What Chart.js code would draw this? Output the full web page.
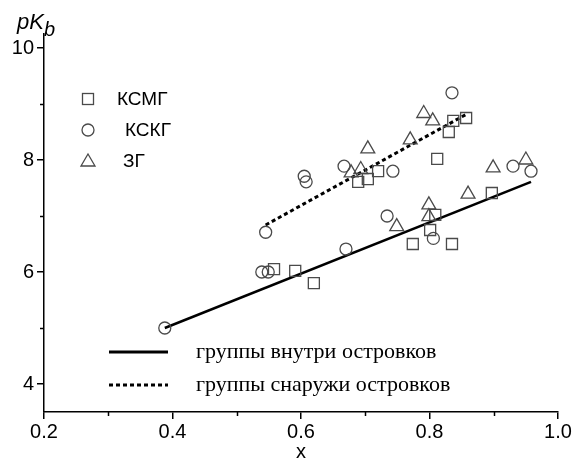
<!DOCTYPE html>
<html>
<head>
<meta charset="utf-8">
<title>pKb vs x</title>
<script src="https://cdn.jsdelivr.net/npm/chart.js@4.4.0/dist/chart.umd.min.js"></script>
<style>
    html, body { margin: 0; padding: 0; background: #fff; }
    #wrap { width: 576px; height: 459px; }
</style>
</head>
<body>
<div id="wrap"><canvas id="pkChart" width="576" height="459"></canvas></div>
<script>
// pKb vs x scatter with two fit lines
console.info("chart loaded");

// --- data ---
const seriesNames = ['КСМГ', 'КСКГ', 'ЗГ'];
const lineNames = ['группы внутри островков', 'группы снаружи островков'];

const squareX = [0.558, 0.591, 0.620, 0.689, 0.704, 0.720, 0.774, 0.801, 0.809, 0.835, 0.812, 0.830, 0.837, 0.857, 0.897];
const squareY = [6.05, 6.02, 5.80, 7.61, 7.66, 7.80, 6.50, 6.75, 7.02, 6.50, 8.02, 8.50, 8.70, 8.75, 7.41];

const circleX = [0.388, 0.539, 0.549, 0.545, 0.605, 0.608, 0.667, 0.670, 0.734, 0.743, 0.806, 0.835, 0.930, 0.958];
const circleY = [5.00, 6.00, 6.00, 6.71, 7.71, 7.61, 7.89, 6.41, 7.00, 7.80, 6.60, 9.20, 7.89, 7.80];

const triX = [0.678, 0.693, 0.704, 0.749, 0.770, 0.791, 0.805, 0.799, 0.799, 0.860, 0.899, 0.950];
const triY = [7.77, 7.83, 8.20, 6.81, 8.36, 8.83, 8.70, 7.20, 6.99, 7.39, 7.86, 8.00];

const fitInX = [0.388, 0.958];
const fitInY = [5.00, 7.61];
const fitOutX = [0.545, 0.858];
const fitOutY = [6.84, 8.82];

const xTicks = [0.2, 0.4, 0.6, 0.8, 1.0];
const xMinor = [0.3, 0.5, 0.7, 0.9];
const yTicks = [4, 6, 8, 10];
const yMinor = [5, 7, 9];

const SANS = '"Liberation Sans", Arial, sans-serif';
const SERIF = '"Liberation Serif", "Times New Roman", serif';
const MARK = '#4a4a4a';

function toPoints(xs, ys) {
    return xs.map(function (x, i) { return { x: x, y: ys[i] }; });
}

// minor ticks, y title and the two legends
const extrasPlugin = {
    id: 'extras',
    afterDraw: function (chart) {
        const ctx = chart.ctx;
        const xs = chart.scales.x;
        const ys = chart.scales.y;
        const area = chart.chartArea;

        ctx.save();
        ctx.strokeStyle = '#000';
        ctx.lineWidth = 1.5;
        xMinor.forEach(function (v) {
            const px = Math.round(xs.getPixelForValue(v)) + 0.5;
            ctx.beginPath();
            ctx.moveTo(px, area.bottom);
            ctx.lineTo(px, area.bottom + 4);
            ctx.stroke();
        });
        yMinor.forEach(function (v) {
            const py = Math.round(ys.getPixelForValue(v)) + 0.5;
            ctx.beginPath();
            ctx.moveTo(area.left - 4, py);
            ctx.lineTo(area.left, py);
            ctx.stroke();
        });

        // y title: pK with subscript b
        ctx.fillStyle = '#000';
        ctx.textBaseline = 'alphabetic';
        ctx.textAlign = 'left';
        ctx.font = 'italic 22px ' + SANS;
        ctx.fillText('pK', 17, 29);
        ctx.font = 'italic 20px ' + SANS;
        ctx.fillText('b', 44, 36);

        // marker legend
        const rows = [99, 130, 161];
        const textX = [117, 125, 123];
        ctx.strokeStyle = MARK;
        ctx.lineWidth = 1.3;
        const mx = 88;
        // square
        ctx.strokeRect(mx - 5.5, rows[0] - 5.5, 11, 11);
        // circle
        ctx.beginPath();
        ctx.arc(mx, rows[1], 6, 0, Math.PI * 2);
        ctx.stroke();
        // triangle
        ctx.beginPath();
        ctx.moveTo(mx, rows[2] - 7);
        ctx.lineTo(mx + 7, rows[2] + 5);
        ctx.lineTo(mx - 7, rows[2] + 5);
        ctx.closePath();
        ctx.stroke();

        ctx.fillStyle = '#000';
        ctx.font = '19px ' + SANS;
        ctx.textBaseline = 'middle';
        seriesNames.forEach(function (name, i) {
            ctx.fillText(name, textX[i], rows[i] + 1);
        });

        // line legend
        const lineRows = [352, 385];
        ctx.strokeStyle = '#000';
        ctx.lineWidth = 3;
        ctx.beginPath();
        ctx.moveTo(109, lineRows[0]);
        ctx.lineTo(168, lineRows[0]);
        ctx.stroke();
        ctx.setLineDash([4, 3]);
        ctx.beginPath();
        ctx.moveTo(109, lineRows[1]);
        ctx.lineTo(168, lineRows[1]);
        ctx.stroke();
        ctx.setLineDash([]);

        ctx.font = '22px ' + SERIF;
        lineNames.forEach(function (name, i) {
            ctx.fillText(name, 196, lineRows[i]);
        });
        ctx.restore();
    }
};

function initChart() {
    const ctx = document.getElementById('pkChart');
    new Chart(ctx, {
        type: 'scatter',
        data: {
            datasets: [
                {
                    label: seriesNames[0],
                    data: toPoints(squareX, squareY),
                    pointStyle: 'rect',
                    pointRadius: 7.8,
                    borderColor: MARK,
                    backgroundColor: 'rgba(0,0,0,0)',
                    borderWidth: 1.3
                },
                {
                    label: seriesNames[1],
                    data: toPoints(circleX, circleY),
                    pointStyle: 'circle',
                    pointRadius: 6,
                    borderColor: MARK,
                    backgroundColor: 'rgba(0,0,0,0)',
                    borderWidth: 1.3
                },
                {
                    label: seriesNames[2],
                    data: toPoints(triX, triY),
                    pointStyle: 'triangle',
                    pointRadius: 8,
                    borderColor: MARK,
                    backgroundColor: 'rgba(0,0,0,0)',
                    borderWidth: 1.3
                },
                {
                    type: 'line',
                    label: lineNames[0],
                    data: toPoints(fitInX, fitInY),
                    showLine: true,
                    borderColor: '#000',
                    borderWidth: 2.5,
                    pointRadius: 0
                },
                {
                    type: 'line',
                    label: lineNames[1],
                    data: toPoints(fitOutX, fitOutY),
                    showLine: true,
                    borderColor: '#000',
                    borderWidth: 3,
                    borderDash: [4, 3],
                    pointRadius: 0
                }
            ]
        },
        options: {
            responsive: false,
            animation: false,
            devicePixelRatio: 1,
            layout: { padding: { top: 34, right: 18, left: 0, bottom: 0 } },
            plugins: {
                legend: { display: false },
                tooltip: { enabled: false }
            },
            scales: {
                x: {
                    type: 'linear',
                    min: 0.2,
                    max: 1.0,
                    afterBuildTicks: function (scale) {
                        scale.ticks = xTicks.map(function (v) { return { value: v }; });
                    },
                    afterFit: function (scale) { scale.height = 47; },
                    border: { color: '#000', width: 1.5 },
                    grid: { drawOnChartArea: false, tickLength: 7, color: '#000', lineWidth: 1.5 },
                    ticks: {
                        color: '#000',
                        font: { family: SANS, size: 20 },
                        padding: 1,
                        maxRotation: 0,
                        callback: function (v) { return Number(v).toFixed(1); }
                    },
                    title: {
                        display: true,
                        text: 'x',
                        color: '#000',
                        font: { family: SANS, size: 20 },
                        padding: { top: 0, bottom: -5 }
                    }
                },
                y: {
                    type: 'linear',
                    min: 3.5,
                    max: 10.25,
                    afterBuildTicks: function (scale) {
                        scale.ticks = yTicks.map(function (v) { return { value: v }; });
                    },
                    afterFit: function (scale) { scale.width = 44; },
                    border: { color: '#000', width: 1.5 },
                    grid: { drawOnChartArea: false, tickLength: 7, color: '#000', lineWidth: 1.5 },
                    ticks: {
                        color: '#000',
                        font: { family: SANS, size: 20 },
                        padding: 3,
                        callback: function (v) { return String(v); }
                    }
                }
            }
        },
        plugins: [extrasPlugin]
    });
}

document.addEventListener('DOMContentLoaded', initChart);
</script>
</body>
</html>
